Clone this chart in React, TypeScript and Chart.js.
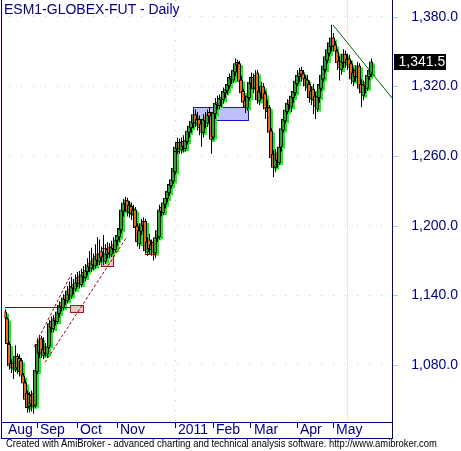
import React, { useEffect, useRef } from 'react';
import { Chart, registerables } from 'chart.js';

Chart.register(...registerables);

// ---- data (daily OHLC) ----
const opens = [
  1126, 1120, 1098, 1077, 1082, 1076, 1088, 1074, 1084, 1071,
  1065, 1056, 1044, 1054, 1056, 1045, 1074, 1090, 1103, 1088,
  1096, 1089, 1096, 1118, 1111, 1121, 1117, 1124, 1134, 1129,
  1140, 1135, 1146, 1139, 1150, 1145, 1150, 1157, 1149, 1160,
  1155, 1160, 1168, 1163, 1172, 1165, 1176, 1169, 1178, 1174,
  1169, 1175, 1182, 1175, 1184, 1179, 1187, 1190, 1196, 1212,
  1218, 1222, 1211, 1217, 1209, 1214, 1200, 1184, 1195, 1204,
  1204, 1177, 1188, 1179, 1186, 1176, 1189, 1190, 1216, 1211,
  1218, 1223, 1228, 1234, 1238, 1246, 1266, 1272, 1265, 1273,
  1266, 1272, 1280, 1284, 1288, 1296, 1286, 1292, 1288, 1280,
  1294, 1288, 1298, 1294, 1276, 1296, 1307, 1303, 1311, 1308,
  1314, 1316, 1320, 1329, 1325, 1332, 1341, 1340, 1326, 1316,
  1308, 1301, 1310, 1322, 1328, 1318, 1332, 1307, 1314, 1320,
  1314, 1298, 1302, 1282, 1262, 1250, 1264, 1254, 1268, 1282,
  1290, 1298, 1308, 1302, 1310, 1314, 1322, 1328, 1334, 1331,
  1327, 1319, 1322, 1309, 1318, 1312, 1300, 1310, 1318, 1326,
  1334, 1342, 1348, 1354, 1362, 1356, 1350, 1342, 1334, 1340,
  1348, 1338, 1344, 1340, 1324, 1334, 1328, 1338, 1322, 1312,
  1324, 1318, 1328, 1330,
];
const highs = [
  1128, 1121, 1100, 1085, 1084, 1097, 1090, 1089, 1086, 1073,
  1067, 1058, 1057, 1058, 1060, 1079, 1103, 1106, 1105, 1104,
  1099, 1102, 1119, 1122, 1123, 1125, 1129, 1135, 1138, 1141,
  1144, 1148, 1152, 1156, 1154, 1158, 1160, 1161, 1163, 1165,
  1167, 1172, 1178, 1181, 1176, 1184, 1190, 1188, 1182, 1192,
  1184, 1186, 1185, 1187, 1190, 1192, 1196, 1201, 1218, 1223,
  1225, 1224, 1221, 1220, 1218, 1216, 1202, 1199, 1206, 1207,
  1206, 1190, 1193, 1188, 1189, 1193, 1199, 1218, 1220, 1223,
  1227, 1233, 1239, 1244, 1255, 1272, 1276, 1275, 1276, 1278,
  1280, 1286, 1290, 1293, 1299, 1300, 1298, 1295, 1291, 1296,
  1298, 1300, 1302, 1296, 1302, 1310, 1312, 1313, 1315, 1319,
  1322, 1325, 1331, 1333, 1338, 1344, 1343, 1342, 1329, 1318,
  1312, 1315, 1327, 1332, 1331, 1334, 1334, 1320, 1324, 1323,
  1316, 1308, 1304, 1284, 1265, 1266, 1268, 1272, 1287, 1296,
  1303, 1309, 1312, 1315, 1320, 1328, 1334, 1336, 1337, 1334,
  1330, 1330, 1325, 1320, 1322, 1315, 1316, 1325, 1333, 1341,
  1349, 1356, 1362, 1373, 1366, 1359, 1352, 1346, 1346, 1352,
  1351, 1348, 1347, 1342, 1336, 1338, 1341, 1340, 1326, 1325,
  1327, 1333, 1338, 1344,
];
const lows = [
  1117, 1095, 1076, 1073, 1068, 1074, 1072, 1070, 1067, 1061,
  1047, 1039, 1039, 1040, 1038, 1043, 1072, 1086, 1086, 1085,
  1087, 1086, 1094, 1108, 1108, 1114, 1115, 1121, 1126, 1127,
  1132, 1133, 1136, 1137, 1141, 1143, 1147, 1146, 1147, 1151,
  1152, 1157, 1160, 1160, 1162, 1163, 1166, 1166, 1168, 1166,
  1167, 1172, 1172, 1173, 1176, 1177, 1183, 1186, 1194, 1208,
  1214, 1208, 1207, 1205, 1204, 1195, 1182, 1180, 1192, 1196,
  1176, 1174, 1176, 1174, 1170, 1172, 1186, 1188, 1208, 1209,
  1215, 1220, 1226, 1232, 1236, 1244, 1262, 1262, 1262, 1263,
  1264, 1270, 1276, 1280, 1284, 1285, 1282, 1278, 1268, 1276,
  1284, 1285, 1288, 1262, 1274, 1292, 1300, 1300, 1302, 1305,
  1310, 1313, 1318, 1322, 1323, 1329, 1332, 1320, 1311, 1302,
  1297, 1299, 1308, 1318, 1314, 1316, 1305, 1304, 1309, 1306,
  1292, 1294, 1276, 1252, 1242, 1246, 1250, 1252, 1264, 1280,
  1288, 1296, 1300, 1298, 1306, 1312, 1320, 1324, 1324, 1320,
  1316, 1315, 1306, 1304, 1296, 1292, 1298, 1306, 1316, 1324,
  1332, 1340, 1346, 1350, 1350, 1344, 1334, 1325, 1330, 1336,
  1336, 1334, 1332, 1322, 1320, 1324, 1324, 1314, 1302, 1308,
  1314, 1316, 1325, 1328,
];
const closes = [
  1120, 1098, 1079, 1082, 1077, 1088, 1077, 1086, 1071, 1064,
  1050, 1043, 1055, 1046, 1044, 1076, 1098, 1102, 1090, 1094,
  1090, 1096, 1116, 1112, 1120, 1118, 1126, 1132, 1130, 1138,
  1136, 1144, 1140, 1148, 1146, 1152, 1156, 1150, 1158, 1156,
  1162, 1166, 1164, 1170, 1166, 1174, 1170, 1176, 1172, 1170,
  1176, 1180, 1176, 1182, 1180, 1188, 1192, 1198, 1214, 1220,
  1222, 1212, 1218, 1210, 1214, 1198, 1186, 1196, 1202, 1200,
  1178, 1186, 1180, 1184, 1176, 1190, 1196, 1214, 1212, 1220,
  1224, 1230, 1236, 1240, 1250, 1268, 1272, 1266, 1272, 1268,
  1274, 1282, 1286, 1290, 1296, 1288, 1292, 1284, 1280, 1292,
  1290, 1296, 1294, 1274, 1298, 1306, 1304, 1310, 1308, 1316,
  1318, 1322, 1328, 1326, 1334, 1340, 1338, 1324, 1314, 1306,
  1302, 1312, 1324, 1328, 1318, 1330, 1308, 1316, 1320, 1310,
  1300, 1302, 1280, 1258, 1250, 1262, 1256, 1268, 1284, 1292,
  1300, 1306, 1304, 1312, 1316, 1325, 1330, 1332, 1330, 1326,
  1320, 1326, 1310, 1316, 1308, 1302, 1312, 1322, 1330, 1338,
  1346, 1352, 1358, 1362, 1354, 1350, 1340, 1336, 1342, 1348,
  1340, 1344, 1336, 1326, 1332, 1328, 1338, 1318, 1314, 1322,
  1320, 1330, 1334, 1341.5,
];

// bar slots (184 traded bars + empty space on the right)
const categories = Array.from({ length: 194 }, (_, i) => String(i));
const monthTickIndex = [0, 16, 36, 56, 85, 104, 123, 146, 164];
const monthTickLabels = ['Aug', 'Sep', 'Oct', 'Nov', '2011', 'Feb', 'Mar', 'Apr', 'May'];
const yTickValues = [1080, 1140, 1200, 1260, 1320, 1380];
const yMin = 1030.9;
const yMax = 1394.4;
const yearBarIndex = 85;
const selectedBarIndex = 171;

// drawings [barIndex, price, barIndex, price]
const trendLines = [[164, 1372.9, 193.5, 1310.0]];
const channelLines = [
  [14.65, 1095.8, 33.35, 1159.0],
  [20, 1082.2, 60.5, 1189.3],
];
const levelLines = [
  [0, 1130, 32.5, 1130],
  [70, 1175.4, 75, 1175.4],
];
const markLines = [[84.5, 1264.5, 87, 1264.5]];
const redBoxes = [
  [32.5, 1131.7, 39, 1125.6],
  [48, 1180.8, 54, 1165.3],
];
const blueBoxes = [[94, 1302.1, 121.5, 1291.0]];

const titleText = 'ESM1-GLOBEX-FUT - Daily';
const footerText =
  'Created with AmiBroker - advanced charting and technical analysis software. http://www.amibroker.com';

// ---- styles ----
const NAVY = '#000080';
const GRID = '#9fdcd8';
const UP = '#2f9f2f';
const DOWN = '#f4641e';
const SHADOW = '#00ff00';
const FONT = "'Liberation Sans', Arial, sans-serif";

const fmt = (v: number) =>
  v.toLocaleString('en-US', { minimumFractionDigits: 1, maximumFractionDigits: 1 });

const crisp = (v: number) => Math.round(v) + 0.5;

const amiPlugin = {
  id: 'ami',
  beforeDatasetsDraw(chart: any) {
    const { ctx, chartArea: a } = chart;
    const x = chart.scales.x;
    const y = chart.scales.y;
    ctx.save();
    ctx.lineWidth = 1;
    // selected-bar line
    let px = crisp(x.getPixelForValue(selectedBarIndex));
    ctx.strokeStyle = '#ffdede';
    ctx.beginPath();
    ctx.moveTo(px, a.top);
    ctx.lineTo(px, a.bottom);
    ctx.stroke();
    // year separator
    px = crisp(x.getPixelForValue(yearBarIndex));
    ctx.strokeStyle = GRID;
    ctx.setLineDash([1, 9]);
    ctx.beginPath();
    ctx.moveTo(px, a.top);
    ctx.lineTo(px, a.bottom);
    ctx.stroke();
    ctx.setLineDash([]);
    const box = (b: number[], fill: string, stroke: string) => {
      const x0 = crisp(x.getPixelForValue(b[0]));
      const y0 = crisp(y.getPixelForValue(b[1]));
      const x1 = crisp(x.getPixelForValue(b[2]));
      const y1 = crisp(y.getPixelForValue(b[3]));
      ctx.fillStyle = fill;
      ctx.fillRect(x0, y0, x1 - x0, y1 - y0);
      ctx.strokeStyle = stroke;
      ctx.strokeRect(x0, y0, x1 - x0, y1 - y0);
    };
    blueBoxes.forEach((b) => box(b, '#c0c0ff', '#1414d2'));
    redBoxes.forEach((b) => box(b, '#e8c4c4', '#a01818'));
    ctx.restore();
  },
  beforeDatasetDraw(chart: any, args: any) {
    const label = chart.data.datasets[args.index].label;
    if (label === 'shadow') {
      chart.ctx.save();
      chart.ctx.translate(2, 2);
    } else if (label === 'wick') {
      chart.ctx.save();
      chart.ctx.translate(0.5, 0);
    }
  },
  afterDatasetDraw(chart: any, args: any) {
    const label = chart.data.datasets[args.index].label;
    if (label === 'shadow' || label === 'wick') chart.ctx.restore();
  },
  afterDatasetsDraw(chart: any) {
    const { ctx } = chart;
    const x = chart.scales.x;
    const y = chart.scales.y;
    ctx.save();
    ctx.lineWidth = 1;
    const seg = (l: number[], color: string, dash: number[]) => {
      ctx.strokeStyle = color;
      ctx.setLineDash(dash);
      ctx.beginPath();
      ctx.moveTo(x.getPixelForValue(l[0]), y.getPixelForValue(l[1]));
      ctx.lineTo(x.getPixelForValue(l[2]), y.getPixelForValue(l[3]));
      ctx.stroke();
    };
    const hseg = (l: number[], color: string) => {
      ctx.strokeStyle = color;
      ctx.setLineDash([]);
      const yy = crisp(y.getPixelForValue(l[1]));
      ctx.beginPath();
      ctx.moveTo(Math.round(x.getPixelForValue(l[0])), yy);
      ctx.lineTo(Math.round(x.getPixelForValue(l[2])), yy);
      ctx.stroke();
    };
    channelLines.forEach((l) => seg(l, '#a00000', [3, 2]));
    levelLines.forEach((l) => hseg(l, '#8b0000'));
    markLines.forEach((l) => hseg(l, '#000000'));
    trendLines.forEach((l) => seg(l, '#006400', []));
    ctx.restore();
  },
  afterDraw(chart: any) {
    const { ctx, chartArea: a } = chart;
    const x = chart.scales.x;
    const y = chart.scales.y;
    ctx.save();
    ctx.lineWidth = 1;
    // frame
    ctx.strokeStyle = NAVY;
    const L = 1.5;
    const R = crisp(a.right);
    const B = Math.round(x.bottom) - 0.5;
    ctx.beginPath();
    ctx.moveTo(L, 0);
    ctx.lineTo(L, B + 0.5);
    ctx.moveTo(R, 0);
    ctx.lineTo(R, B + 0.5);
    ctx.moveTo(1, B);
    ctx.lineTo(R, B);
    ctx.moveTo(1, crisp(a.bottom));
    ctx.lineTo(R, crisp(a.bottom));
    ctx.stroke();
    // y tick marks
    ctx.strokeStyle = GRID;
    y.ticks.forEach((t: any) => {
      const ty = crisp(y.getPixelForValue(t.value));
      ctx.beginPath();
      ctx.moveTo(a.right + 1, ty);
      ctx.lineTo(a.right + 6, ty);
      ctx.stroke();
    });
    // last price box
    const last = closes[closes.length - 1];
    const py = y.getPixelForValue(last);
    ctx.fillStyle = '#000000';
    ctx.fillRect(a.right + 2, Math.round(py) - 7, 52, 16);
    ctx.fillStyle = '#ffffff';
    ctx.font = `14px ${FONT}`;
    ctx.textAlign = 'left';
    ctx.textBaseline = 'middle';
    ctx.fillText(fmt(last), a.right + 6.5, Math.round(py) + 1);
    ctx.restore();
  },
};

export default function App() {
  const canvasRef = useRef<HTMLCanvasElement>(null);
  const footRef = useRef<HTMLDivElement>(null);
  const footSpanRef = useRef<HTMLSpanElement>(null);

  useEffect(() => {
    if (footRef.current && footSpanRef.current) {
      const w = footSpanRef.current.offsetWidth;
      if (w > 0) footRef.current.style.transform = `scaleX(${431 / w})`;
    }
    const canvas = canvasRef.current;
    if (!canvas) return;
    const bodies = opens.map((o, i) => [o, closes[i]]);
    const ranges = lows.map((l, i) => [l, highs[i]]);
    const bodyColors = opens.map((o, i) => (closes[i] >= o ? UP : DOWN));
    const chart = new Chart(canvas, {
      type: 'bar',
      data: {
        labels: categories,
        datasets: [
          {
            label: 'body',
            data: bodies as any,
            backgroundColor: bodyColors,
            borderColor: '#000000',
            borderWidth: 1,
            borderSkipped: false,
            barThickness: 4,
            grouped: false,
            inflateAmount: 0,
            order: 0,
          } as any,
          {
            label: 'wick',
            data: ranges as any,
            backgroundColor: '#000000',
            borderWidth: 0,
            barThickness: 1,
            grouped: false,
            inflateAmount: 0,
            order: 1,
          } as any,
          {
            label: 'shadow',
            data: bodies as any,
            backgroundColor: SHADOW,
            borderWidth: 0,
            barThickness: 4,
            grouped: false,
            inflateAmount: 0,
            order: 2,
          } as any,
        ],
      },
      options: {
        responsive: false,
        animation: false,
        devicePixelRatio: 1,
        events: [],
        layout: { padding: { left: 4, right: 3, top: 0, bottom: 12 } },
        plugins: { legend: { display: false }, tooltip: { enabled: false }, title: { display: false } },
        scales: {
          x: {
            type: 'category',
            offset: true,
            afterBuildTicks: (s: any) => {
              s.ticks = monthTickIndex.map((v) => ({ value: v }));
            },
            afterFit: (s: any) => {
              s.height = 17;
              s.paddingLeft = 0;
              s.paddingRight = 0;
            },
            grid: {
              display: true,
              drawOnChartArea: false,
              drawTicks: true,
              tickLength: 6,
              offset: false,
              color: NAVY,
              tickColor: (c: any) => (c.index === 0 ? 'rgba(0,0,0,0)' : NAVY),
            },
            border: { display: true, color: NAVY },
            ticks: {
              autoSkip: false,
              maxRotation: 0,
              minRotation: 0,
              align: 'start',
              labelOffset: 3,
              padding: -6,
              color: NAVY,
              font: { family: FONT, size: 14 },
              callback: (_v: any, i: number) => monthTickLabels[i],
            },
          } as any,
          y: {
            type: 'linear',
            position: 'right',
            min: yMin,
            max: yMax,
            afterBuildTicks: (s: any) => {
              s.ticks = yTickValues.map((v) => ({ value: v }));
            },
            afterFit: (s: any) => {
              s.width = 66;
              s.paddingTop = 0;
              s.paddingBottom = 0;
            },
            grid: { color: GRID, drawTicks: false, lineWidth: 1 },
            border: { display: true, color: NAVY, dash: [1, 11], dashOffset: 7 },
            ticks: {
              crossAlign: 'far',
              padding: 0,
              color: NAVY,
              font: { family: FONT, size: 14 },
              callback: (v: any) => fmt(Number(v)),
            },
          } as any,
        },
      },
      plugins: [amiPlugin],
    });
    return () => chart.destroy();
  }, []);

  return (
    <div
      style={{
        position: 'absolute',
        left: 0,
        top: 0,
        width: 461,
        height: 451,
        background: '#ffffff',
        overflow: 'hidden',
      }}
    >
      <canvas ref={canvasRef} width={461} height={451} style={{ position: 'absolute', left: 0, top: 0 }} />
      <div
        style={{
          position: 'absolute',
          left: 4,
          top: 1,
          fontFamily: FONT,
          fontSize: 14,
          lineHeight: '16px',
          color: NAVY,
          whiteSpace: 'nowrap',
        }}
      >
        {titleText}
      </div>
      <div
        ref={footRef}
        style={{
          position: 'absolute',
          left: 6,
          top: 438,
          fontFamily: FONT,
          fontSize: 10,
          lineHeight: '12px',
          color: '#000000',
          whiteSpace: 'nowrap',
          transformOrigin: '0 0',
        }}
      >
        <span ref={footSpanRef}>{footerText}</span>
      </div>
    </div>
  );
}
